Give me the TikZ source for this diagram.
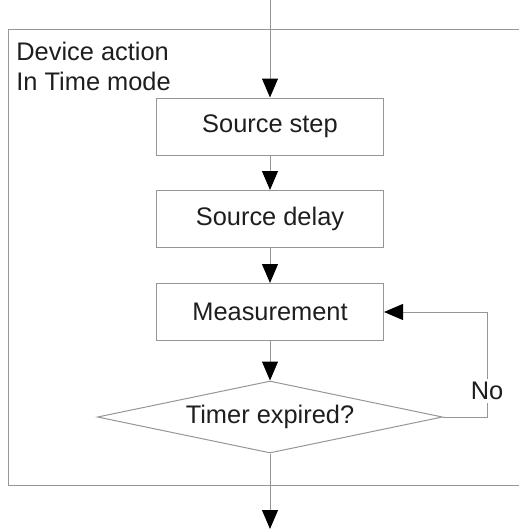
\documentclass[tikz,border=0pt]{standalone}
\usepackage{fontspec}
\setmainfont{Liberation Sans}
\usetikzlibrary{arrows.meta,positioning,shapes.geometric}
\definecolor{lngray}{RGB}{150,150,150}
\definecolor{txgray}{RGB}{30,30,30}
\tikzset{
  stepbox/.style={draw=lngray,line width=.5pt,minimum width=113.5pt,minimum height=28.5pt,inner sep=0pt,text=txgray},
  testbox/.style={draw=lngray,line width=.5pt,diamond,aspect=4.8,minimum width=172.5pt,minimum height=36pt,inner sep=0pt,text=txgray},
  flow/.style={draw=lngray,line width=.5pt,-{Triangle[length=9.5pt,width=8pt,fill=black,color=black]}}
}
\begin{document}
\begin{tikzpicture}[x=.5pt,y=-.5pt,font=\fontsize{12.7}{15}\selectfont]
    \useasboundingbox (0,0) rectangle (519,531);
    % frame of the device action
    \draw[lngray,line width=.5pt] (519,29)--(8,29)--(8,485)--(519,485);
    \node[anchor=north west,inner sep=0pt,align=left,text=txgray] (lbl) at (16,42) {Device action\\In Time mode};
    \coordinate (in) at (270,0);
    \node[stepbox] (src) at (270,126.5) {Source step};
    \node[stepbox] (dly) at (270,219) {Source delay};
    \node[stepbox] (meas) at (270,312) {Measurement};
    \node[testbox] (tmr) at (270,417) {Timer expired?};
    \coordinate (out) at (270,529);
    \draw[flow] (in)--(src); \draw[flow] (src)--(dly); \draw[flow] (dly)--(meas);
    \draw[flow] (meas)--(tmr); \draw[flow] (tmr)--(out);
    \draw[flow] (tmr.east)--++(44,0) |- node[pos=.125,fill=white,inner sep=1.5pt,text=txgray]{No} (meas.east);
  \end{tikzpicture}
\end{document}
